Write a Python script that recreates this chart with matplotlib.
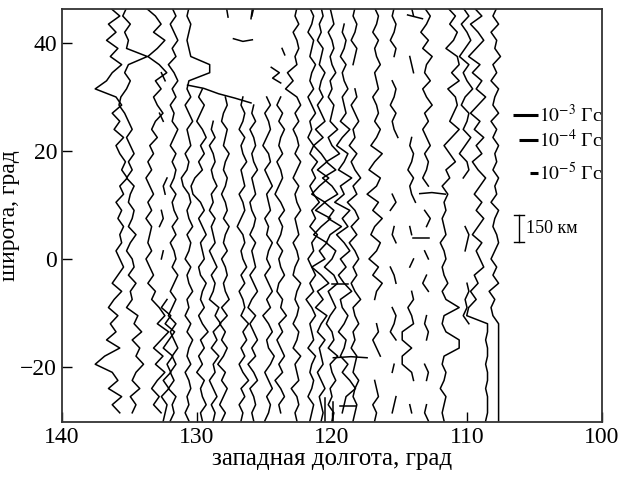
import matplotlib.pyplot as plt
import numpy as np

plt.rcParams['font.family'] = ['Liberation Serif', 'DejaVu Serif']
plt.rcParams['mathtext.fontset'] = 'stix'

N = None

# latitude samples of every profile (deg), top to bottom
track_lat = np.arange(46.5, -30.1, -1.5)

# base longitude of each profile (deg W)
track_lon = [136.0, 134.8, 133.5, 132.5, 131.7, 130.6, 129.6, 128.8, 127.9,
             126.6, 125.8, 124.7, 123.8, 122.6, 121.5, 120.8, 120.0, 119.1,
             118.3, 116.7, 115.4, 114.1, 113.0, 111.7, 110.0, 108.9, 107.8]

# profile deviation, in units of 0.14 deg (positive = west)
dev_unit = 0.14
track_dev = [
    [3, -2, 4, 0, 5, -1, 3, -3, 2, 5, 11, 0, -3, 2, -2, 1, -4, 0, -2, -5, -3, -6, -2, -4, 0, -3,
     -1, -4, -2, -3, 0, -2, -4, -1, 2, -3, 1, 4, -1, 3, 0, 5, -2, 6, 11, 2, -1, 4, -3, 2, -2, N],
    [3, 5, 1, 4, 2, 3, -8, 2, 4, 1, 3, 6, 7, 4, 2, 0, 3, 1, -1, 2, 0, 3, -1, 1, 2, -1,
     0, 2, -2, 1, 3, 0, -1, 2, -2, 1, 0, 3, -3, -1, -5, 0, -4, -2, -6, -2, 0, -4, 1, -2, 0, N],
    [2, -3, -6, -2, -8, -4, 1, -5, -9, -3, -6, -2, -4, -7, -3, -1, -4, 0, -2, 1, -1, 2, 0, -2, 1, -1,
     2, -1, 0, 1, -1, 2, 0, -2, 1, -3, -1, -5, -8, -4, -10, -6, -2, -7, -3, -8, -4, -1, -5, -2, -6, N],
    [N, N, N, N, N, N, N, N, 1, -1, N, N, N, 2, 0, N, N, N, N, N, N, -2, 0, -1, N, 1,
     0, 2, N, N, 0, 1, N, N, N, N, -2, 1, -4, -1, -6, -3, 0, -5, -2, -4, 0, -3, 1, -2, -1, 0],
    [1, -1, 2, 0, -2, 1, -1, 3, 0, -2, 1, -1, 2, 0, 1, -2, 0, 2, -1, 1, -1, 0, 2, -1, 1, 0,
     -2, 1, -1, 2, 0, -1, 1, -2, 0, 2, -1, 1, 3, -1, 2, 0, -2, 1, -1, 2, 0, 3, -1, 1, 0, 2],
    [0, 1, -1, 0, 1, 0, -1, -11, -11, 0, 1, -1, 2, 0, -2, 1, 0, -1, 2, 0, 1, 4, 3, 0, -1, 1,
     0, -2, 1, -1, 0, 2, -1, 1, 0, -2, 1, 0, 2, -1, 1, -2, 0, 1, -1, 2, 0, -1, 1, 0, 2, 0],
    [N, N, N, N, N, N, N, N, N, N, 0, 2, -1, 1, 3, 0, -2, 1, -1, 2, 0, 4, 6, 5, 1, -1,
     2, 0, -2, 1, 0, -1, 2, 1, -2, 0, 1, -1, 2, 0, -3, 1, -1, 2, 0, 3, -1, 1, 0, -2, 1, 0],
    [N, N, N, N, N, N, N, N, N, N, N, N, N, N, 0, 1, -1, 2, 0, -1, 1, 0, -2, 1, 0, 2,
     -1, 1, 0, -1, 2, 0, -2, 1, -1, 0, 2, -3, -1, -4, 0, -2, 1, -3, 0, -1, 2, 0, -2, 1, -1, 0],
    [N, N, N, N, N, N, N, N, N, N, N, 0, -1, 1, 2, -1, 0, 1, -2, 0, 1, -1, 0, 2, 0, -1,
     1, -2, 0, 1, -1, 2, 0, -1, 1, 0, -2, 2, -1, 3, 0, 2, -1, 1, 4, 0, 2, -1, 1, 3, 0, 2],
    [N, N, N, N, N, N, N, N, N, N, N, 0, 1, -1, 0, 2, -1, 1, 0, -2, 1, 0, -1, 2, 0, -1,
     1, 3, 0, -1, 1, 0, -2, 1, -1, 2, 0, -1, 1, -3, 0, -2, 1, -1, 2, 0, -3, 1, -1, 2, 0, 1],
    [0, 1, N, N, N, N, N, N, N, N, N, N, 0, 1, -1, 2, 0, -1, 1, 0, -2, 1, 0, -1, 2, 1,
     -1, 0, 2, -1, 1, 0, -1, 2, 0, -2, 1, 3, -1, 2, 0, -2, 1, -1, 3, 0, -2, 2, 0, -1, 1, 0],
    [N, N, N, N, N, N, N, N, N, N, N, 1, -1, 2, 0, -1, 1, 3, 0, -1, 2, 0, -2, 1, 0, -1,
     2, 0, 1, -2, 0, 1, -1, 2, 0, -2, 1, -1, 3, 0, -2, 1, 0, -3, -1, 2, 0, -2, 1, -1, 0, 2],
    [N, N, N, N, N, N, N, N, N, N, N, 0, 2, -1, 1, -2, 0, 1, -1, 2, 0, -1, 1, 3, 0, -2,
     1, -1, 0, 2, -1, 1, 0, -2, 1, 2, -1, 0, -3, 1, -1, 2, 0, -2, 1, -1, 3, 0, -2, 1, 0, N],
    [0, 1, -1, 2, 0, -1, 1, 0, 5, 2, 6, 0, -2, 1, -1, 2, 0, -1, 1, -2, 0, 2, -1, 1, 0, -2,
     1, 0, -1, 2, 0, -1, 1, 2, -2, 0, 1, -1, 0, 2, -1, 0, 2, -2, 1, 0, -1, 3, 0, -1, 1, 0],
    [1, -1, 0, 2, -1, 0, 1, -2, 0, 1, -1, 2, 0, -2, 1, 0, 2, -1, 1, -3, 0, -2, 1, -1, -4, 0,
     -2, 1, -3, 0, -1, 2, 0, -2, 1, -1, 3, 0, -2, 1, 0, -1, 2, -2, 0, 1, -1, 0, 2, -1, 0, 1],
    [0, -1, 1, 0, 2, -1, 0, 1, -2, 0, 1, -1, 2, 0, -2, 3, -1, 4, 0, -3, 2, -4, 1, 5, -2, 3,
     -5, 0, 4, -3, 1, -2, 5, 0, -4, 2, -1, 3, -3, 0, 2, -2, 1, 0, -1, 2, 0, -2, 1, 0, -1, 0],
    [1, 0, -1, 2, 0, -1, 1, 0, -2, 1, 0, 2, -1, 0, 1, -3, 2, 0, -4, 3, -2, 5, 0, -3, 4, -1,
     2, -5, 1, 3, -2, 0, 4, -1, -3, 2, 0, -2, 1, 3, 0, -1, 2, -3, 1, 0, -2, 1, 0, 2, -1, 0],
    [N, N, 0, 1, -1, 0, 2, -1, 1, 0, -2, 1, 0, -1, 2, -3, 1, 4, -2, 0, 3, -4, 2, 0, 5, -3,
     1, -2, 4, 0, -3, 2, -1, 3, 0, -4, 2, 1, -2, 0, 3, -1, 0, 2, -2, 1, -3, -6, -1, 0, 1, N],
    [0, 1, -1, 0, 2, -1, 0, 1, N, N, 0, -1, 2, 0, -2, 1, 0, 3, -1, 2, 0, -3, 1, -1, 4, 0,
     -2, 2, -1, 3, 0, -2, 1, -1, 2, 0, -3, 1, 0, -2, 1, 0, 2, -1, 0, 1, -2, 0, 1, -1, 0, 1],
    [1, -1, 0, 2, -1, 1, 0, -2, 1, 0, -1, 2, 0, -1, 1, -2, 0, 3, -3, 1, 4, -2, 0, 5, -1, 2,
     -3, 1, 3, -2, 0, 4, -1, 2, -3, 0, 1, N, N, 0, -1, 2, 0, -2, N, N, 1, 0, -1, 2, 0, 1],
    [0, 1, -1, 0, 2, -1, 0, N, N, 1, -1, 0, 2, -1, 1, 0, -2, N, N, N, N, N, N, 1, -1, 2,
     N, 0, 1, -1, N, N, 2, 0, -1, N, N, 1, -1, 0, 2, -1, N, N, 0, 1, N, N, -1, 0, 1, N],
    [0, -1, N, N, N, N, 1, 0, -1, N, N, N, N, N, N, N, 0, 1, -1, 0, 2, -1, 1, 0, -2, N,
     N, 1, 0, N, N, -1, 1, N, N, 0, -1, 2, 0, -1, 5, 5, 0, 5, 5, 0, -1, N, N, 1, 0, N],
    [1, -2, 0, 3, -1, 2, -3, 0, 1, -2, 2, 0, -3, 1, -1, 2, 0, -2, 1, -1, 0, 2, -1, N, N, 1,
     -2, 0, N, N, 1, -1, N, 0, 2, -1, N, N, 0, 1, -1, 0, N, N, 1, -1, 0, N, N, 0, 1, -1],
    [-2, -6, -3, -7, -5, -1, -7, -8, -4, -8, -2, -6, -7, -5, -3, -8, -4, 0, -3, -6, -1, -3, 1, -2, 0, -1,
     1, 0, -1, 2, 0, -1, 1, 0, -2, 1, -1, -8, 0, 1, -1, -8, -8, 0, 1, -1, 0, 2, -1, 0, 1, 0],
    [2, -1, 3, 0, -2, 1, 4, -1, 2, 0, -3, 1, 3, -1, 0, 2, -2, 1, 4, 0, -1, 2, N, N, N, N,
     N, 1, -1, 0, 1, N, N, N, 0, -1, 1, 0, 2, -1, N, N, N, N, N, N, N, N, N, N, N, N],
    [4, 0, 6, 2, -1, 3, 7, 1, 5, 0, 3, -2, 2, 6, 1, 4, -1, 3, 0, 5, 2, -2, 1, 4, 0, 3,
     -1, 2, 5, 0, 3, 1, -1, 4, 2, 6, 3, 7, 8, -3, -3, -2, -3, -3, -2, -3, -3, -2, -3, -3, -3, -2],
    [0, 2, -1, 3, 0, 1, -2, 2, 0, 3, -1, 1, 2, -1, 3, 0, 2, -1, 1, 0, 2, -1, 1, 0, 3, -1,
     1, 2, 0, -1, 1, 3, 0, 2, -1, 4, 1, 3, 2, -1, -1, -1, -1, -1, -1, -1, -1, -1, -1, -1, -1, -1],
]

# short isolated pieces of profiles (lon, lat)
frag_lon = [[127.3, 126.6, 125.9], [127.8, 127.7], [125.9, 126.0], [124.5, 123.9, 124.4, 123.8],
            [123.7, 123.5], [114.4, 113.3], [113.5, 112.6, 111.6], [114.0, 112.8],
            [120.5, 120.5], [119.9, 119.9], [119.9, 118.6, 117.4], [119.4, 118.2],
            [120.0, 118.8], [130.7, 129.5, 128.4, 127.2, 126.0]]
frag_lat = [[40.8, 40.3, 40.6], [46.3, 44.8], [46.3, 44.5], [35.5, 34.5, 33.5, 32.6],
            [39.0, 37.8], [45.2, 44.5], [12.1, 12.3, 12.0], [3.8, 3.8],
            [-25.8, -30.2], [-26.5, -30.2], [-18.3, -18.1, -18.3], [-27.2, -27.2],
            [-4.6, -4.6], [32.2, 31.6, 30.6, 29.8, 28.9]]

# amplitude scale and distance scale
scale_label = [r'$10^{-3}$ Гс', r'$10^{-4}$ Гс', r'$10^{-5}$ Гс']
scale_len = [1.85, 1.4, 0.6]
scale_lat = [26.6, 22.0, 15.9]
km_label = '150 км'

fig, ax = plt.subplots(figsize=(6.35, 4.78), dpi=100)
fig.subplots_adjust(left=62/635, right=602/635, bottom=56/478, top=469/478)

for lon0, dev in zip(track_lon, track_dev):
    x = np.array([np.nan if d is None else lon0 + d*dev_unit for d in dev])
    ax.plot(x, track_lat, color='black', lw=1.1)

for fx, fy in zip(frag_lon, frag_lat):
    ax.plot(fx, fy, color='black', lw=1.1)

x_end = 104.75
for lab, ln, la in zip(scale_label, scale_len, scale_lat):
    ax.plot([x_end + ln, x_end], [la, la], color='black', lw=2.2, solid_capstyle='butt')
    ax.text(x_end - 0.1, la, lab, ha='left', va='center', fontsize=14)

ax.plot([106.15, 106.15], [8.2, 3.2], color='black', lw=1)
ax.plot([106.5, 105.8], [8.2, 8.2], color='black', lw=1)
ax.plot([106.5, 105.8], [3.2, 3.2], color='black', lw=1)
ax.text(105.6, 5.7, km_label, ha='left', va='center', fontsize=13)

ax.set_xlim(140, 100)
ax.set_ylim(-30.2, 46.3)
ax.set_xticks([140, 130, 120, 110, 100])
ax.set_yticks([-20, 0, 20, 40])
ax.tick_params(direction='in', length=7, labelsize=17, width=1)
for s in ax.spines.values():
    s.set_linewidth(1.3)
    s.set_color('#333333')
ax.set_xlabel('западная долгота, град', fontsize=18, labelpad=0)
ax.set_ylabel('широта, град', fontsize=17, labelpad=0)

fig.savefig('out.png', dpi=100)
